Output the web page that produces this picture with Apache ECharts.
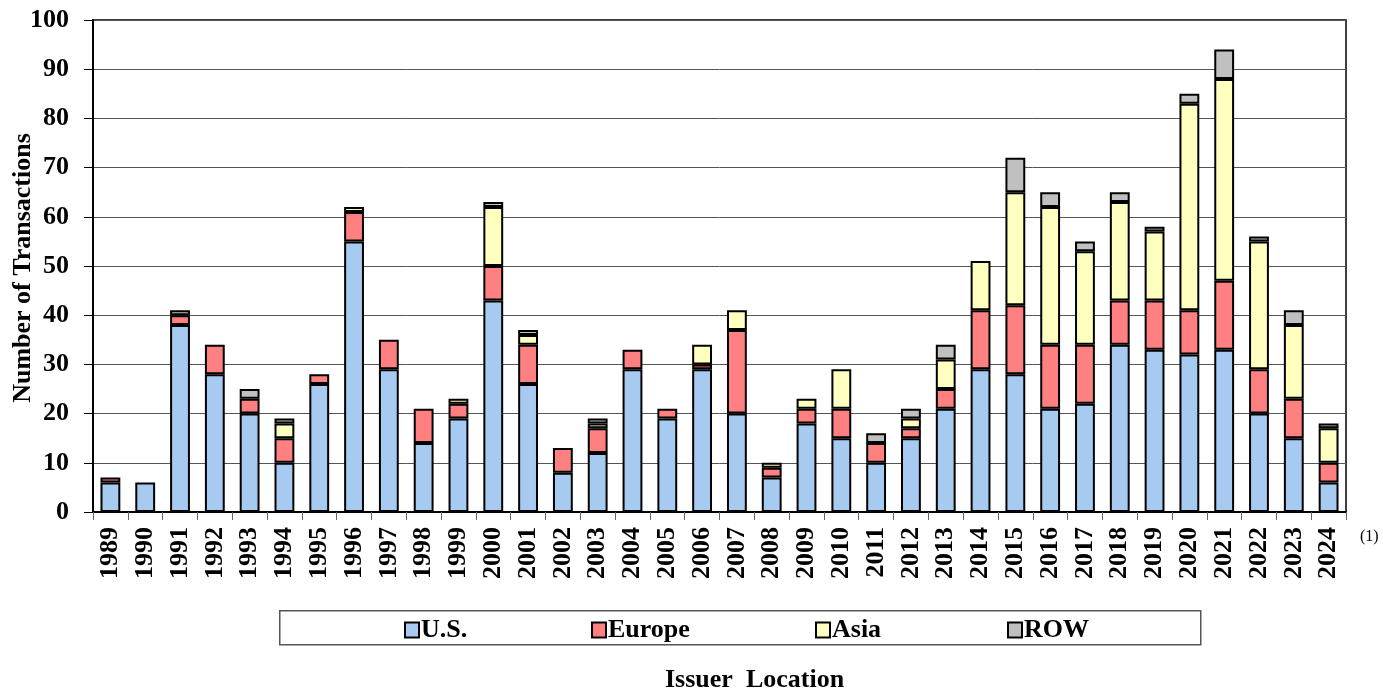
<!DOCTYPE html>
<html>
<head>
<meta charset="utf-8">
<script src="https://cdn.jsdelivr.net/npm/echarts@6/dist/echarts.min.js"></script>
<style>html,body{margin:0;padding:0;background:#fff}#c{width:1383px;height:693px}</style>
</head>
<body>
<div id="c"></div>
<script>
const years = ['1989','1990','1991','1992','1993','1994','1995','1996','1997','1998','1999','2000','2001','2002','2003','2004','2005','2006','2007','2008','2009','2010','2011','2012','2013','2014','2015','2016','2017','2018','2019','2020','2021','2022','2023','2024'];
const us     = [6,6,38,28,20,10,26,55,29,14,19,43,26,8,12,29,19,29,20,7,18,15,10,15,21,29,28,21,22,34,33,32,33,20,15,6];
const europe = [1,0,2,6,3,5,2,6,6,7,3,7,8,5,5,4,2,1,17,2,3,6,4,2,4,12,14,13,12,9,10,9,14,9,8,4];
const asia   = [0,0,0,0,0,3,0,1,0,0,1,12,2,0,1,0,0,4,4,1,2,8,0,2,6,10,23,28,19,20,14,42,41,26,15,7];
const row    = [0,0,1,0,2,1,0,0,0,0,0,1,1,0,1,0,0,0,0,0,0,0,2,2,3,0,7,3,2,2,1,2,6,1,3,1];
const yTicks = [0,10,20,30,40,50,60,70,80,90,100];
const seriesNames = ['U.S.','Europe','Asia','ROW'];
const seriesColors = ['#A6CAF0','#FF8080','#FFFFC0','#C0C0C0'];
const seriesData = [us, europe, asia, row];

const FONT = '"Liberation Serif", "Times New Roman", serif';
const chart = echarts.init(document.getElementById('c'));

const legendLefts = [399, 586, 810, 1002];

chart.setOption({
  animation: false,
  textStyle: { fontFamily: FONT },
  grid: { left: 93, right: 37, top: 20, bottom: 181, containLabel: false, outerBoundsMode: 'none', show: true, borderColor: '#000', borderWidth: 1.5, backgroundColor: 'transparent' },
  legend: seriesNames.map((n, i) => ({
    data: [n],
    left: legendLefts[i],
    top: 612,
    itemWidth: 14,
    itemHeight: 15,
    itemGap: 4,
    icon: 'rect',
    textStyle: { fontFamily: FONT, fontWeight: 'bold', fontSize: 26, color: '#000', padding: [0, 0, 0, -3] }
  })),
  xAxis: {
    type: 'category',
    data: years,
    boundaryGap: true,
    axisLine: { lineStyle: { color: '#000', width: 2 } },
    axisTick: { show: true, alignWithLabel: false, length: 8, lineStyle: { color: '#666', width: 1 } },
    axisLabel: { rotate: 90, fontFamily: FONT, fontWeight: 'bold', fontSize: 26, color: '#000', margin: 15, interval: 0 }
  },
  yAxis: {
    type: 'value',
    min: yTicks[0],
    max: yTicks[yTicks.length - 1],
    interval: 10,
    axisLine: { show: true, lineStyle: { color: '#000', width: 2 } },
    axisTick: { show: true, length: 9, lineStyle: { color: '#000' } },
    axisLabel: { fontFamily: FONT, fontWeight: 'bold', fontSize: 26, color: '#000', margin: 24 },
    splitLine: { lineStyle: { color: '#555', width: 1 } }
  },
  series: seriesNames.map((n, i) => ({
    name: n,
    type: 'bar',
    stack: 'total',
    barWidth: '57%',
    data: seriesData[i].map(v => v === 0 ? null : v),
    itemStyle: { color: seriesColors[i], borderColor: '#000', borderWidth: 2 }
  })),
  graphic: [
    { type: 'rect', left: 279, top: 610, z: -1, shape: { width: 921, height: 34 }, style: { fill: '#fff', stroke: '#555', lineWidth: 1.5 } },
    { type: 'text', x: 23, y: 268, rotation: Math.PI / 2, style: { text: 'Number of Transactions', font: 'bold 26px ' + FONT, fill: '#000', align: 'center', verticalAlign: 'middle' } },
    { type: 'text', left: 665, top: 667, style: { text: 'Issuer  Location', font: 'bold 26px ' + FONT, fill: '#000' } },
    { type: 'text', left: 1360, top: 529, style: { text: '(1)', font: '16px ' + FONT, fill: '#000' } }
  ]
});
</script>
</body>
</html>
